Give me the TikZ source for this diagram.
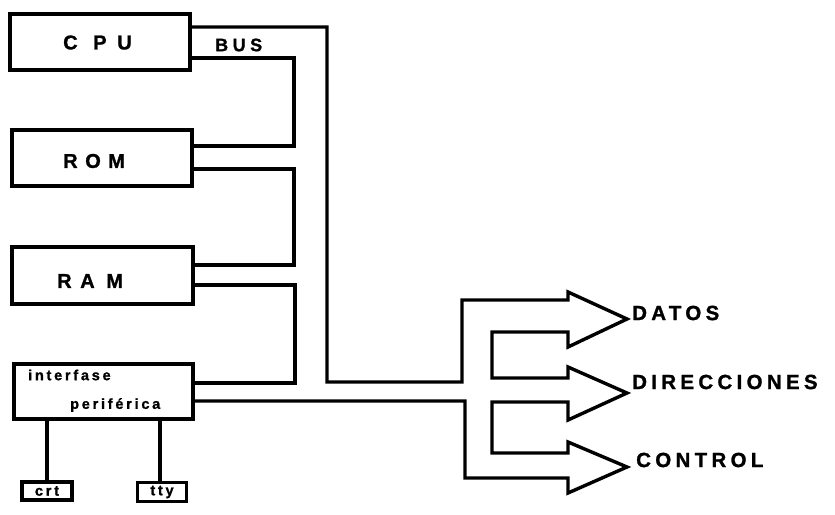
\documentclass[tikz,border=0pt]{standalone}
\usepackage{fontspec}
\setmainfont{Liberation Sans}
\newfontfamily\labfont{Liberation Sans}[LetterSpace=21, BoldFeatures={FakeBold=1.2}]
\newfontfamily\boxfont{Liberation Sans}[BoldFeatures={FakeBold=1.2}]
\newfontfamily\busfont{Liberation Sans}[LetterSpace=25, BoldFeatures={FakeBold=1.2}]
\newfontfamily\smlfont{Liberation Sans}[LetterSpace=19, BoldFeatures={FakeBold=1.2}]
\begin{document}
\begin{tikzpicture}[x=1pt,y=-1pt,
  wire/.style={line width=3.4pt, line join=miter},
  box/.style={draw, line width=3.4pt, rectangle, inner sep=0pt, outer sep=0pt},
  lbl/.style={font=\labfont\bfseries\fontsize{20.5}{20.5}\selectfont, inner sep=0pt},
  boxlbl/.style={font=\boxfont\bfseries\fontsize{20}{20}\selectfont, inner sep=0pt, anchor=west},
  small/.style={font=\smlfont\bfseries\fontsize{14.5}{14.5}\selectfont, inner sep=0pt}]
\useasboundingbox (0,0) rectangle (835,514);
% boxes
\node[box, minimum width=180pt, minimum height=56pt] (cpu) at (100,42) {};
\node[box, minimum width=180pt, minimum height=56pt] (rom) at (102,158) {};
\node[box, minimum width=181pt, minimum height=57pt] (ram) at (102.5,275.5) {};
\node[box, minimum width=179pt, minimum height=55pt] (ifc) at (103.5,391.5) {};
\node[box, minimum width=50pt, minimum height=18pt, small] (crt) at (47,491) {crt};
\node[box, minimum width=49pt, minimum height=19pt, small] (tty) at (162,492) {tty};
% box texts
\node[boxlbl] (tcpu) at (63,42.5) {C\hspace{15.6pt}P\hspace{10.7pt}U};
\node[boxlbl] (trom) at (63,161) {R\hspace{7.6pt}O\hspace{7.4pt}M};
\node[boxlbl] (tram) at (57,281) {R\hspace{8.6pt}A\hspace{11.6pt}M};
\node[small, anchor=west] (tif1) at (28,375) {interfase};
\node[small, anchor=west] (tif2) at (70,405) {periférica};
% labels
\node[anchor=west, inner sep=0pt, font=\busfont\bfseries\fontsize{18}{18}\selectfont] (bus) at (215,45) {BUS};
\node[lbl, anchor=west] (datos) at (632,313) {DATOS};
\node[lbl, anchor=west] (dir) at (632,382) {DIRECCIONES};
\node[lbl, anchor=west] (ctl) at (636,460) {CONTROL};
% bus coordinates
\coordinate (b1) at (327,27);
\coordinate (b2) at (327,382);
\coordinate (b3) at (462,382);
\coordinate (b4) at (462,300);
% outer bus outline with arrows (single path)
\draw[wire] (cpu.east |- b1) -- (b1) -- (b2) -- (b3) -- (b4)
  -- (568,300) -- (568,292) -- (627,319) -- (568,347) -- (568,332)
  -- (492,332) -- (492,378) -- (568,378) -- (568,367) -- (627,393)
  -- (568,420) -- (568,402) -- (492,402) -- (492,453) -- (568,453)
  -- (568,442) -- (627,467) -- (568,493) -- (568,478) -- (465,478)
  -- (465,401) -- (ifc.east |- 0,401);
% inner bus segments
\draw[wire] (cpu.east |- 0,58) -- (294,58) -- (294,146) -- (rom.east |- 0,146);
\draw[wire] (rom.east |- 0,169) -- (294,169) -- (294,265) -- (ram.east |- 0,265);
\draw[wire] (ram.east |- 0,285) -- (295,285) -- (295,383) -- (ifc.east |- 0,383);
% peripherals
\draw[wire] (crt.north |- ifc.south) -- (crt.north);
\draw[wire] (160,419) coordinate (t0) -- (t0 |- tty.north);
\end{tikzpicture}
\end{document}
